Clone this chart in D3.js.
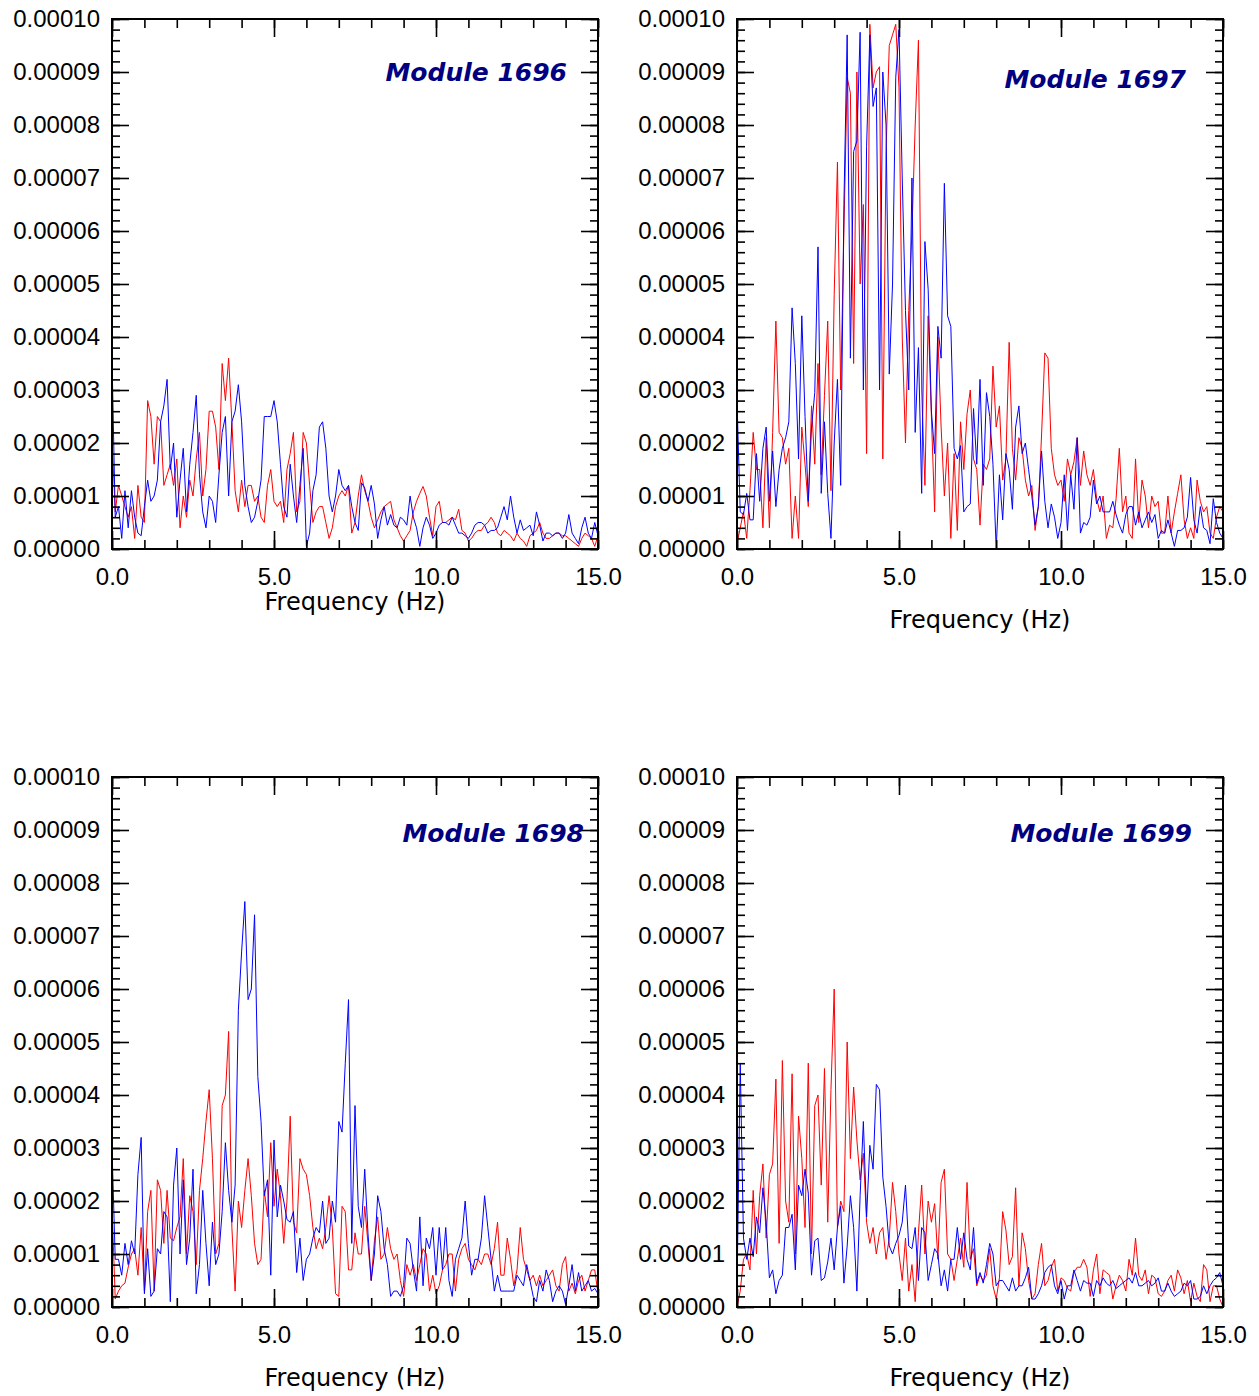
<!DOCTYPE html>
<html>
<head>
<meta charset="utf-8">
<script src="https://cdn.jsdelivr.net/npm/d3@7"></script>
<style>
body { margin: 0; background: #fff; }
svg { display: block; background: #fff; }
.tick text { font-family: "Liberation Sans", Arial, sans-serif; font-size: 24px; fill: #000; }
</style>
</head>
<body>
<svg width="1259" height="1396"></svg>
<script>
// spectra sampled every 0.1 Hz from 0 to 15 Hz, values in units of 1e-5
var df = 0.1;
var xTicks = [0, 5, 10, 15];
var modules = ["Module 1696", "Module 1697", "Module 1698", "Module 1699"];

var red1696 = [2.1,0.7,1.2,1.0,0.8,0.6,0.8,0.2,1.2,0.6,
  0.5,2.8,2.5,1.6,2.5,2.4,1.2,1.4,1.6,1.2,
  1.7,0.4,1.0,0.6,1.3,1.0,1.7,2.2,1.0,1.5,
  2.6,2.6,2.3,1.5,3.5,2.8,3.6,2.4,1.1,0.7,
  1.3,0.8,1.2,1.2,0.9,1.0,0.6,0.5,1.2,1.5,
  0.9,0.8,0.9,0.5,1.5,1.8,2.2,0.7,0.9,2.2,
  2.0,1.2,0.5,0.7,0.8,0.8,0.5,0.2,0.4,0.8,
  1.0,1.1,1.0,1.2,0.3,0.5,1.0,1.4,1.1,0.9,
  0.6,0.4,0.55,0.7,0.8,0.85,0.9,0.55,0.4,0.25,
  0.15,0.25,0.35,0.7,0.9,1.05,1.18,1.0,0.6,0.25,
  0.8,0.9,0.5,0.5,0.55,0.6,0.55,0.75,0.35,0.3,
  0.15,0.2,0.3,0.35,0.35,0.45,0.5,0.6,0.5,0.3,
  0.25,0.35,0.3,0.25,0.15,0.3,0.2,0.15,0.05,0.25,
  0.3,0.35,0.5,0.3,0.2,0.2,0.25,0.3,0.3,0.25,
  0.25,0.2,0.15,0.1,0.05,0.2,0.3,0.25,0.2,0.05,0.25];
var blue1696 = [3.6,0.6,0.8,0.2,1.1,0.4,1.1,0.6,0.3,0.25,
  0.8,1.3,0.9,1.0,1.3,2.4,2.7,3.2,1.5,2.0,
  0.6,1.3,1.9,0.7,1.6,2.2,2.9,1.4,0.7,0.4,
  1.0,0.9,0.5,1.4,2.2,2.5,1.0,2.4,2.6,3.1,
  2.4,1.2,0.8,0.5,0.6,0.9,1.3,2.5,2.5,2.5,
  2.8,2.4,1.6,0.8,0.6,1.6,1.0,0.5,1.2,1.9,
  0.05,0.3,1.1,1.4,2.3,2.4,1.9,1.0,0.7,1.0,
  1.5,1.2,1.1,1.2,0.8,0.5,0.35,1.25,1.15,0.9,
  1.2,0.85,0.2,0.55,0.8,0.45,0.65,0.45,0.4,0.6,
  0.55,0.45,1.0,0.6,0.4,0.05,0.4,0.6,0.45,0.2,
  0.3,0.45,0.5,0.5,0.45,0.6,0.45,0.3,0.3,0.25,
  0.2,0.3,0.45,0.5,0.5,0.45,0.3,0.35,0.35,0.4,
  0.6,0.8,0.55,1.0,0.6,0.3,0.55,0.35,0.4,0.45,
  0.25,0.7,0.45,0.15,0.3,0.3,0.25,0.3,0.3,0.2,
  0.3,0.65,0.3,0.2,0.1,0.4,0.6,0.3,0.2,0.5,0.25];

var red1697 = [0.1,0.4,0.7,0.2,1.1,2.2,1.5,1.5,0.4,2.1,
  0.4,2.2,4.3,2.2,2.1,1.6,1.9,0.2,1.0,0.2,
  2.3,1.6,0.8,2.7,1.6,3.5,1.4,2.9,4.3,1.1,
  4.8,7.3,3.0,6.0,8.9,8.6,3.5,9.0,5.0,6.5,
  1.8,9.9,8.7,9.0,9.1,1.7,7.5,9.5,9.7,9.9,
  8.7,4.0,2.0,4.5,6.0,8.0,9.6,3.0,1.2,4.4,
  2.5,0.7,4.0,2.3,1.0,2.0,0.2,1.8,0.35,2.4,
  1.5,2.55,3.0,1.7,1.5,0.45,1.6,1.5,1.7,3.45,
  2.3,2.7,1.3,1.7,3.9,1.9,1.3,2.1,1.9,1.3,
  1.0,1.2,0.35,0.8,2.15,3.7,3.6,1.9,1.4,1.2,
  1.3,0.9,1.7,1.4,1.65,2.1,1.2,1.85,1.4,1.2,
  1.5,0.95,0.7,1.0,0.2,0.45,0.4,0.95,1.9,0.7,
  1.0,0.3,0.2,1.7,0.5,1.3,1.0,0.4,1.0,0.8,
  0.9,0.3,0.3,1.0,0.3,0.7,1.05,1.4,0.55,0.2,
  0.4,0.2,1.3,0.9,0.7,0.8,0.3,0.2,0.6,0.8,0.7];
var blue1697 = [2.8,0.7,0.65,1.05,0.55,0.55,1.8,0.9,1.9,2.3,
  0.9,1.85,0.8,1.5,1.9,2.1,2.4,4.55,3.5,1.7,
  4.4,2.5,0.9,2.3,2.95,5.7,1.05,2.4,1.05,0.2,
  2.0,3.2,1.2,6.5,9.7,3.6,7.5,7.7,9.75,3.0,
  7.6,9.7,8.35,8.7,3.0,9.0,8.0,3.3,5.0,8.9,
  9.8,7.0,4.5,3.0,7.0,2.2,3.8,1.05,5.8,4.9,
  2.6,1.8,4.2,3.6,6.9,4.4,4.2,1.9,1.7,1.95,
  0.7,0.8,0.85,2.65,1.6,3.2,1.2,2.95,2.5,1.6,
  0.0,1.4,0.55,1.8,1.5,0.75,2.3,2.7,1.8,2.0,
  1.5,1.0,0.45,0.8,1.85,0.9,0.4,0.85,0.6,0.2,
  0.5,1.4,0.35,1.4,0.75,2.1,0.3,0.5,0.45,0.6,
  1.3,0.85,1.0,0.7,0.7,0.7,0.9,0.65,0.45,0.3,
  0.65,0.8,0.8,0.45,0.7,0.4,0.55,0.7,0.5,0.65,
  0.2,0.35,0.3,0.55,0.3,0.05,0.35,0.35,0.4,0.6,
  1.35,0.55,0.3,0.8,0.4,0.35,0.1,0.95,0.5,0.3,0.2];

var red1698 = [1.9,0.15,0.3,0.4,0.45,0.75,1.0,1.1,0.6,1.5,
  0.3,1.8,2.2,0.3,2.4,2.2,1.2,2.2,1.3,1.25,
  1.5,1.7,2.8,1.0,2.1,1.8,0.8,2.2,2.8,3.5,
  4.1,2.8,1.0,1.2,3.8,4.0,5.2,1.5,0.3,2.0,
  1.5,2.2,2.8,2.1,1.2,0.8,0.9,2.2,1.7,3.1,
  1.9,2.6,2.1,1.2,2.0,3.6,1.6,1.4,2.8,2.6,
  2.5,2.1,1.5,1.1,1.3,1.1,1.5,2.1,1.5,0.25,
  0.2,1.9,1.8,0.7,0.7,1.4,1.0,1.0,1.9,1.2,
  0.5,1.25,1.7,0.9,1.0,1.5,1.1,0.9,1.0,0.5,
  0.2,0.8,0.6,0.8,0.5,0.8,1.1,1.0,0.3,0.6,
  0.25,0.4,0.7,0.8,1.0,1.0,0.3,0.9,1.1,1.2,
  0.9,0.8,0.7,0.9,0.8,1.0,1.0,0.8,1.1,1.6,
  0.6,0.6,1.3,0.9,0.4,0.7,1.5,0.9,0.7,0.5,
  0.6,0.4,0.6,0.4,0.5,0.6,0.7,0.4,0.3,0.8,
  0.95,0.3,0.45,0.25,0.5,0.6,0.3,0.5,0.7,0.7,0.25];
var blue1698 = [3.0,0.9,0.9,0.6,1.2,0.8,1.25,1.0,2.5,3.2,
  0.25,1.1,0.2,0.3,1.1,1.0,1.8,1.7,0.1,2.3,
  3.0,1.0,2.4,0.8,1.3,2.6,0.25,0.8,2.2,1.2,
  0.4,1.6,0.8,1.0,1.8,3.1,2.2,1.6,2.3,5.6,
  6.7,7.65,5.8,6.0,7.4,4.35,3.5,2.1,2.4,0.6,
  3.15,1.7,2.3,2.0,1.65,1.6,1.8,0.65,1.3,0.5,
  0.9,1.0,1.3,1.5,1.4,2.0,1.2,1.3,2.0,1.6,
  3.5,3.3,4.6,5.8,1.2,3.8,1.9,1.5,2.6,1.4,
  0.5,1.0,2.1,1.8,1.1,0.8,0.2,0.3,0.3,0.2,
  0.4,1.3,1.2,0.7,0.3,1.7,0.4,1.3,1.1,1.5,
  0.6,1.5,0.7,1.5,0.5,0.2,0.9,1.1,1.3,2.0,
  1.2,0.6,0.9,0.9,1.3,2.1,1.5,0.9,0.3,0.6,
  0.3,0.3,0.3,0.3,0.3,0.6,0.5,0.4,0.8,0.5,
  0.2,0.1,0.5,0.3,0.7,0.5,0.1,0.3,0.4,0.3,
  0.05,0.4,0.8,0.3,0.65,0.3,0.4,0.5,0.3,0.35,0.25];

var red1699 = [0.0,0.3,0.9,1.0,0.7,2.2,1.0,2.1,2.7,1.3,
  2.5,2.7,4.3,1.2,4.65,2.0,1.6,4.4,1.0,3.6,
  2.8,1.5,4.6,1.0,3.8,4.0,2.3,4.5,1.6,4.1,
  6.0,1.5,2.0,1.8,5.0,2.8,4.15,3.15,2.4,2.9,
  1.6,1.2,1.5,1.0,1.4,1.5,0.9,1.3,2.35,1.8,
  1.0,0.5,1.3,0.3,0.8,0.1,1.4,2.3,1.0,2.0,
  1.6,1.95,0.9,2.35,2.6,1.0,0.9,0.5,0.9,1.3,
  0.75,2.35,0.9,1.1,0.4,0.6,0.5,0.6,1.1,0.4,
  0.15,0.55,1.8,1.45,0.8,0.95,2.25,0.4,1.4,1.1,
  0.5,0.15,0.25,0.8,1.2,0.4,0.5,0.75,0.9,0.3,
  0.55,0.5,0.35,0.3,0.65,0.75,0.75,0.9,0.75,0.2,
  0.7,1.0,0.25,0.7,0.65,0.6,0.15,0.4,0.6,0.5,
  0.3,0.9,0.6,1.3,0.6,0.5,0.7,0.25,0.6,0.55,
  0.25,0.2,0.3,0.5,0.6,0.3,0.7,0.55,0.25,0.5,
  0.1,0.45,0.2,0.1,0.8,0.7,0.1,0.4,0.4,0.15,0.0];
var blue1699 = [0.3,4.6,1.3,0.9,1.3,0.95,1.7,1.4,2.25,1.6,
  0.55,0.7,0.25,0.5,0.6,1.5,1.5,1.75,0.7,2.3,
  2.1,2.6,2.15,0.6,1.25,1.3,0.5,0.55,0.85,1.3,
  0.7,1.5,1.9,0.45,1.15,2.1,1.5,0.3,2.1,3.5,
  1.7,3.05,2.6,4.2,4.1,2.45,1.9,1.15,1.0,1.2,
  1.35,1.6,2.3,1.15,1.1,1.5,0.5,1.5,1.4,0.5,
  0.8,1.1,1.0,0.4,0.7,0.3,0.9,0.9,1.5,0.9,
  1.4,0.9,0.7,1.5,0.45,0.65,0.45,0.8,1.2,1.0,
  0.4,0.5,0.5,0.4,0.3,0.55,0.3,0.4,0.4,0.55,
  0.75,0.15,0.15,0.25,0.4,0.65,0.75,0.8,0.4,0.25,
  0.5,0.15,0.4,0.4,0.7,0.5,0.3,0.5,0.45,0.45,
  0.2,0.5,0.4,0.55,0.45,0.4,0.5,0.35,0.4,0.45,
  0.5,0.55,0.45,0.65,0.4,0.4,0.45,0.5,0.4,0.45,
  0.55,0.3,0.3,0.45,0.3,0.2,0.25,0.3,0.45,0.4,
  0.5,0.15,0.15,0.2,0.4,0.25,0.4,0.5,0.55,0.65,0.4];

var svg = d3.select("svg");
var pw = 486, ph = 530;

var panels = [
  {title: modules[0], red: red1696, blue: blue1696, left: 112, top: 19, tx: 567, ty: 81, ly: 610},
  {title: modules[1], red: red1697, blue: blue1697, left: 737, top: 19, tx: 1186, ty: 88, ly: 628},
  {title: modules[2], red: red1698, blue: blue1698, left: 112, top: 777, tx: 584, ty: 842, ly: 1386},
  {title: modules[3], red: red1699, blue: blue1699, left: 737, top: 777, tx: 1192, ty: 842, ly: 1386}
];

var yMajor = d3.range(0, 11).map(function (k) { return k * 1e-5; });
var yMinor = d3.range(0, 51).map(function (k) { return k * 2e-6; });
var xMinor = d3.range(0, 16);
var yFmt = d3.format(".5f"), xFmt = d3.format(".1f");

function clean(g) {
  g.select(".domain").remove();
  g.selectAll(".tick line").attr("stroke", "#000").attr("stroke-width", 1.6);
}

panels.forEach(function (p) {
  var x = d3.scaleLinear().domain([0, 15]).range([p.left, p.left + pw]);
  var y = d3.scaleLinear().domain([0, 1e-4]).range([p.top + ph, p.top]);
  var g = svg.append("g");

  var line = d3.line()
    .x(function (d, i) { return x(i * df); })
    .y(function (d) { return y(d * 1e-5); });

  g.append("path").datum(p.red)
    .attr("d", line).attr("fill", "none")
    .attr("stroke", "#ff0000").attr("stroke-width", 1);
  g.append("path").datum(p.blue)
    .attr("d", line).attr("fill", "none")
    .attr("stroke", "#0000ff").attr("stroke-width", 1);

  // ticks on all four sides, pointing inward
  g.append("g").attr("transform", "translate(" + p.left + ",0)")
    .call(d3.axisLeft(y).tickValues(yMinor).tickSize(-8).tickFormat("")).call(clean);
  g.append("g").attr("transform", "translate(" + p.left + ",0)")
    .call(d3.axisLeft(y).tickValues(yMajor).tickSize(-17).tickPadding(12).tickFormat(yFmt)).call(clean);
  g.append("g").attr("transform", "translate(" + (p.left + pw) + ",0)")
    .call(d3.axisRight(y).tickValues(yMinor).tickSize(-8).tickFormat("")).call(clean);
  g.append("g").attr("transform", "translate(" + (p.left + pw) + ",0)")
    .call(d3.axisRight(y).tickValues(yMajor).tickSize(-17).tickFormat("")).call(clean);

  g.append("g").attr("transform", "translate(0," + (p.top + ph) + ")")
    .call(d3.axisBottom(x).tickValues(xMinor).tickSize(-9).tickFormat("")).call(clean);
  g.append("g").attr("transform", "translate(0," + (p.top + ph) + ")")
    .call(d3.axisBottom(x).tickValues(xTicks).tickSize(-18).tickPadding(19).tickFormat(xFmt)).call(clean);
  g.append("g").attr("transform", "translate(0," + p.top + ")")
    .call(d3.axisTop(x).tickValues(xMinor).tickSize(-9).tickFormat("")).call(clean);
  g.append("g").attr("transform", "translate(0," + p.top + ")")
    .call(d3.axisTop(x).tickValues(xTicks).tickSize(-18).tickFormat("")).call(clean);

  g.append("rect")
    .attr("x", p.left).attr("y", p.top)
    .attr("width", pw).attr("height", ph)
    .attr("fill", "none").attr("stroke", "#000").attr("stroke-width", 2);

  g.append("text")
    .attr("x", p.tx).attr("y", p.ty)
    .attr("text-anchor", "end")
    .attr("font-family", "DejaVu Sans, sans-serif")
    .attr("font-weight", "bold").attr("font-style", "italic")
    .attr("font-size", 25).attr("fill", "#000080")
    .text(p.title);

  g.append("text")
    .attr("x", p.left + pw / 2).attr("y", p.ly)
    .attr("text-anchor", "middle")
    .attr("font-family", "DejaVu Sans, sans-serif")
    .attr("font-size", 24).attr("fill", "#000")
    .text("Frequency (Hz)");
});
</script>
</body>
</html>
